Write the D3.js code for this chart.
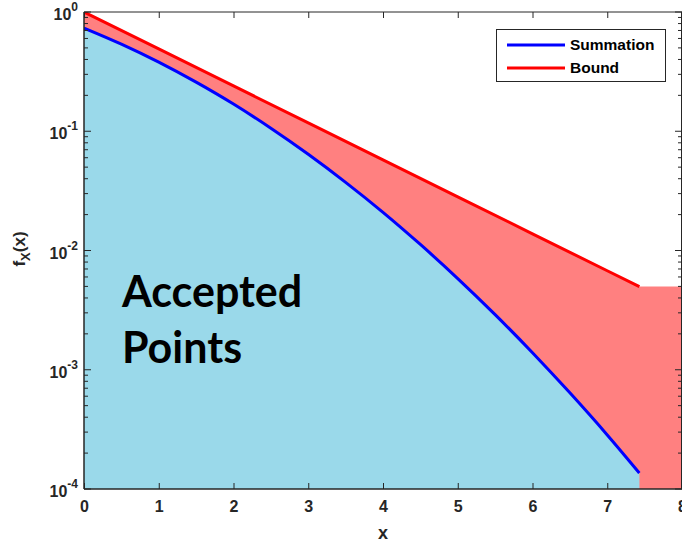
<!DOCTYPE html>
<html>
<head>
<meta charset="utf-8">
<script src="https://cdn.jsdelivr.net/npm/d3@7"></script>
<style>
  html, body { margin: 0; padding: 0; background: #fff; }
  svg { display: block; }
  .tick-label { font-family: "Liberation Sans", Arial, sans-serif; font-weight: bold; fill: #262626; }
</style>
</head>
<body>
<svg id="chart" width="682" height="544"></svg>
<script>
// Density estimates: summed series and its exponential bound
const xSum = [0, 0.5, 1, 1.5, 2, 2.5, 3, 3.5, 4, 4.5, 5, 5.5, 6, 6.5, 7, 7.43];
const summation = [0.734, 0.538, 0.380, 0.258, 0.169, 0.106, 0.0641, 0.0373, 0.0209,
                   0.01123, 0.00582, 0.0029, 0.00139, 0.00064, 0.000284, 0.000136];
const xBound = [0, 1, 2, 3, 4, 5, 6, 7, 7.43];
const bound = [1.0, 0.490, 0.240, 0.1175, 0.0575, 0.0282, 0.0138, 0.00676, 0.00498];
// Beyond the last sample, the rejection envelope stays flat at the final bound value
const xTail = [7.43, 8];
const tail = [0.00498, 0.00498];

const xTicks = [0, 1, 2, 3, 4, 5, 6, 7, 8];
const yTickExps = [0, -1, -2, -3, -4];
const seriesNames = ["Summation", "Bound"];
const seriesColors = ["#0000ff", "#ff0000"];

const svg = d3.select("#chart");
const pLeft = 84, pRight = 682, pTop = 12, pBottom = 489;
const x = d3.scaleLinear().domain([0, 8]).range([pLeft, pRight]);
const y = d3.scaleLog().domain([1e-4, 1]).range([pBottom, pTop]);

svg.append("defs").append("clipPath").attr("id", "plot")
  .append("rect").attr("x", pLeft).attr("y", pTop).attr("width", pRight - pLeft).attr("height", pBottom - pTop);

const g = svg.append("g").attr("clip-path", "url(#plot)");

// Envelope region (red) under the bound, including the flat tail
const boundPts = xBound.map((v, i) => [v, bound[i]]).concat(xTail.map((v, i) => [v, tail[i]]).slice(1));
g.append("path")
  .datum(boundPts)
  .attr("fill", "#ff8080")
  .attr("d", d3.area().x(d => x(d[0])).y0(y(1e-4)).y1(d => y(d[1])));

// Accepted region (light blue) under the summation
const sumPts = xSum.map((v, i) => [v, summation[i]]);
g.append("path")
  .datum(sumPts)
  .attr("fill", "#9ad9ea")
  .attr("d", d3.area().x(d => x(d[0])).y0(y(1e-4)).y1(d => y(d[1])).curve(d3.curveMonotoneX));

// Curves
g.append("path")
  .datum(xBound.map((v, i) => [v, bound[i]]))
  .attr("fill", "none").attr("stroke", seriesColors[1]).attr("stroke-width", 3)
  .attr("d", d3.line().x(d => x(d[0])).y(d => y(d[1])));
g.append("path")
  .datum(sumPts)
  .attr("fill", "none").attr("stroke", seriesColors[0]).attr("stroke-width", 3)
  .attr("d", d3.line().x(d => x(d[0])).y(d => y(d[1])).curve(d3.curveMonotoneX));

// Region annotation
const note = svg.append("g")
  .style("font-family", "Lato, 'Open Sans', sans-serif")
  .style("font-weight", "bold")
  .style("font-size", "43px")
  .attr("fill", "#000");
note.append("text").attr("x", 122).attr("y", 307).text("Accepted");
note.append("text").attr("x", 122).attr("y", 363).text("Points");

// Axes box
const axisColor = "#262626";
const frame = svg.append("g");
frame.append("line").attr("x1", pLeft).attr("x2", pLeft).attr("y1", pTop).attr("y2", pBottom)
  .attr("stroke", axisColor).attr("stroke-width", 1.5);
frame.append("line").attr("x1", pLeft).attr("x2", pRight).attr("y1", pBottom).attr("y2", pBottom)
  .attr("stroke", axisColor).attr("stroke-width", 1.5);
frame.append("line").attr("x1", pLeft).attr("x2", pRight).attr("y1", pTop).attr("y2", pTop)
  .attr("stroke", axisColor).attr("stroke-width", 1);
frame.append("line").attr("x1", pRight - 0.5).attr("x2", pRight - 0.5).attr("y1", pTop).attr("y2", pBottom)
  .attr("stroke", axisColor).attr("stroke-width", 1);

// x ticks (inward, bottom and top)
const xAxisB = d3.axisBottom(x).tickValues(xTicks).tickSize(-6).tickFormat(d3.format("d")).tickPadding(12);
const gx = svg.append("g").attr("transform", `translate(0,${pBottom})`).call(xAxisB);
gx.select(".domain").remove();
gx.selectAll(".tick line").attr("stroke", axisColor);
gx.selectAll(".tick text").attr("class", "tick-label").style("font-size", "16px");
const gxt = svg.append("g").attr("transform", `translate(0,${pTop})`)
  .call(d3.axisTop(x).tickValues(xTicks).tickSize(-6).tickFormat(""));
gxt.select(".domain").remove();
gxt.selectAll(".tick line").attr("stroke", axisColor);

// y ticks: decades and minor ticks on both sides
const minor = [];
for (let e = -4; e < 0; e++) for (let m = 2; m <= 9; m++) minor.push(m * Math.pow(10, e));
const major = yTickExps.map(e => Math.pow(10, e));
const yt = svg.append("g");
major.forEach(v => {
  yt.append("line").attr("x1", pLeft).attr("x2", pLeft + 7).attr("y1", y(v)).attr("y2", y(v)).attr("stroke", axisColor);
  yt.append("line").attr("x1", pRight - 7).attr("x2", pRight).attr("y1", y(v)).attr("y2", y(v)).attr("stroke", axisColor);
});
minor.forEach(v => {
  yt.append("line").attr("x1", pLeft).attr("x2", pLeft + 4).attr("y1", y(v)).attr("y2", y(v)).attr("stroke", axisColor);
  yt.append("line").attr("x1", pRight - 4).attr("x2", pRight).attr("y1", y(v)).attr("y2", y(v)).attr("stroke", axisColor);
});
yTickExps.forEach(e => {
  const t = svg.append("text").attr("class", "tick-label")
    .attr("x", pLeft - 6).attr("y", y(Math.pow(10, e)) + 8)
    .attr("text-anchor", "end").style("font-size", "16px");
  t.append("tspan").text("10");
  t.append("tspan").attr("dy", -9).style("font-size", "12px").text(String(e));
});

// Axis titles
svg.append("text").attr("class", "tick-label")
  .attr("x", (pLeft + pRight) / 2).attr("y", 539)
  .attr("text-anchor", "middle").style("font-size", "18px").text("x");
const yl = svg.append("text").attr("class", "tick-label")
  .attr("transform", "translate(25,249) rotate(-90)")
  .attr("text-anchor", "middle").style("font-size", "17px");
yl.append("tspan").text("f");
yl.append("tspan").attr("dy", 5).style("font-size", "13px").text("X");
yl.append("tspan").attr("dy", -5).text("(x)");

// Legend
const lg = svg.append("g");
lg.append("rect").attr("x", 496.5).attr("y", 29.5).attr("width", 169).attr("height", 52)
  .attr("fill", "#fff").attr("stroke", axisColor).attr("stroke-width", 1);
seriesNames.forEach((name, i) => {
  const ly = 45 + i * 23;
  lg.append("line").attr("x1", 507).attr("x2", 565).attr("y1", ly).attr("y2", ly)
    .attr("stroke", seriesColors[i]).attr("stroke-width", 3);
  lg.append("text").attr("class", "tick-label").attr("x", 570).attr("y", ly + 5)
    .style("font-size", "15.5px").style("fill", "#000").text(name);
});
</script>
</body>
</html>
